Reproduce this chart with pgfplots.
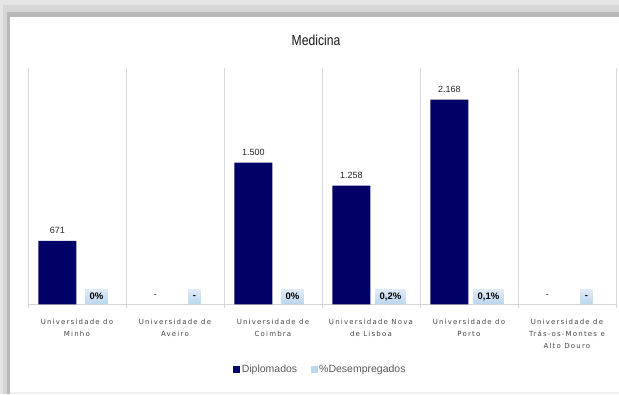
\documentclass[border=0pt]{standalone}
\usepackage{pgfplots}
\pgfplotsset{compat=1.18}
\usepackage{fontspec}
\setmainfont{Liberation Sans}
\newfontfamily\condfont[FakeStretch=0.84]{Liberation Sans}
\newfontfamily\spacedfont[LetterSpace=17]{DejaVu Sans}
\definecolor{navy}{RGB}{0,0,102}
\definecolor{lblue}{RGB}{189,215,238}
\definecolor{lblueT}{RGB}{222,234,246}
\begin{document}
\begin{tikzpicture}[x=1pt,y=1pt]
\useasboundingbox (0,0) rectangle (619,394);
% frame / shadow
\fill[black!10] (0,0) rectangle (619,394);
\fill[black!16] (3,0) rectangle (619,389);
\fill[black!28] (7,0) rectangle (619,382);
\fill[black!6] (10,0) rectangle (619,377);
\fill[white] (10,2) rectangle (619,377);
\node[font=\condfont\fontsize{14.5}{16}\selectfont, text=black!90] at (316,354) {Medicina};
\begin{axis}[
  at={(28.5,95)}, anchor=south west,
  scale only axis, width=588pt, height=236pt,
  xmin=-0.5, xmax=5.5, ymin=0, ymax=2500,
  axis y line=none, axis x line*=bottom,
  x axis line style={draw=black!17,-},
  xtick={0,...,5},
  xticklabels={{Universidade do\\Minho},{Universidade de\\Aveiro},{Universidade de\\Coimbra},{Universidade Nova\\de Lisboa},{Universidade do\\Porto},{Universidade de\\Trás-os-Montes e\\Alto Douro}},
  xticklabel style={font=\spacedfont\fontsize{7}{12}\selectfont, text=black!72, align=center, yshift=-11pt},
  major tick length=0pt,
  minor xtick={-0.5,0.5,...,5.5},
  minor tick length=4pt, tick align=outside,
  xminorgrids, minor grid style={black!15},
  minor tick style={black!17},
  ybar, clip=false,
  legend style={at={(0.497,-0.275)}, anchor=center, draw=none, fill=none,
    font=\fontsize{10.5}{12}\selectfont, text=black!65, legend columns=2,
    /tikz/every even column/.append style={column sep=12pt},
    /tikz/every odd column/.append style={column sep=0pt},
    nodes={inner xsep=1.5pt}},
  legend cell align=left,
]
\addplot[fill=navy, draw=none, bar width=38pt, bar shift=-19.5pt,
  legend image code/.code={\fill[navy] (0pt,-3.5pt) rectangle (7pt,3.5pt);},
  nodes near coords, point meta=explicit symbolic,
  nodes near coords style={font=\fontsize{9}{10}\selectfont, text=black!85, anchor=south, yshift=3.5pt}]
  coordinates {(0,671) [671] (2,1500) [1.500] (3,1258) [1.258] (4,2168) [2.168]};
\addlegendentry{Diplomados}
\addplot[fill=lblue, draw=none, bar width=20pt, bar shift=19.5pt,
  legend image code/.code={\fill[lblue] (0pt,-3.5pt) rectangle (7pt,3.5pt);},
  nodes near coords, point meta=explicit symbolic,
  nodes near coords style={font=\bfseries\fontsize{9.5}{10}\selectfont, text=black,
    top color=lblueT, bottom color=lblue, anchor=south, inner xsep=4.5pt, inner ysep=0pt,
    minimum height=14pt, yshift=0.5pt}]
  coordinates {(0,0) [0\%] (1,0) [-] (2,0) [0\%] (3,0.2) [0,2\%] (4,0.1) [0,1\%] (5,0) [-]};
\addlegendentry{\%Desempregados}
% missing values of Diplomados: label only
\addplot[draw=none, fill=none, bar width=38pt, bar shift=-19.5pt, forget plot,
  nodes near coords, point meta=explicit symbolic,
  nodes near coords style={font=\fontsize{9}{10}\selectfont, text=black!85, anchor=south, yshift=3.5pt}]
  coordinates {(1,0) [-] (5,0) [-]};
\end{axis}
\end{tikzpicture}
\end{document}
